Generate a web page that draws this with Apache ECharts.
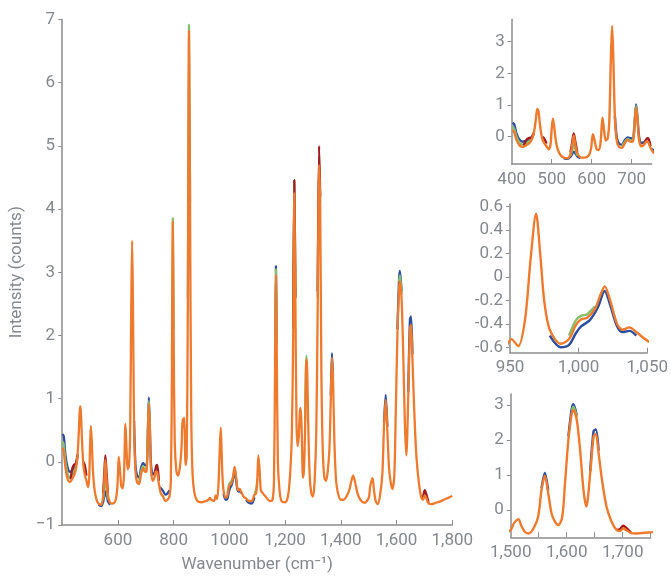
<!DOCTYPE html>
<html>
<head>
<meta charset="utf-8">
<script src="https://cdn.jsdelivr.net/npm/echarts@6/dist/echarts.min.js"></script>
<style>
  html, body { margin: 0; background: #fff; }
  #chart { width: 671px; height: 578px; }
</style>
</head>
<body>
<div id="chart"></div>
<script>
// top (orange) spectrum
const wavenumber = [
  402, 406, 412, 420, 428, 436, 444, 450, 455, 460, 464, 467, 471, 476, 481, 487, 493, 497, 500, 503,
  506, 510, 515, 522, 530, 540, 547, 551, 555, 559, 564, 572, 582, 592, 598, 603, 607, 612, 617, 622,
  627, 631, 635, 640, 644, 648, 651, 654, 658, 663, 669, 676, 683, 690, 697, 703, 707, 711, 715, 719,
  725, 731, 737, 741, 747, 754, 762, 770, 778, 785, 790, 794, 797, 800, 804, 810, 816, 822, 828, 832,
  835, 838, 843, 847, 851, 855, 859, 863, 868, 875, 885, 900, 915, 925, 930, 935, 945, 951, 956, 961,
  965, 969, 972, 975, 979, 987, 993, 998, 1002, 1006, 1012, 1016, 1019, 1023, 1028, 1032, 1037, 1042, 1051, 1060,
  1070, 1080, 1090, 1096, 1100, 1104, 1108, 1113, 1120, 1130, 1145, 1155, 1160, 1164, 1167, 1170, 1174, 1180, 1187, 1200,
  1210, 1218, 1224, 1229, 1233, 1237, 1241, 1245, 1249, 1253, 1256, 1260, 1264, 1268, 1272, 1276, 1279, 1283, 1288, 1294,
  1300, 1306, 1312, 1317, 1322, 1326, 1330, 1335, 1341, 1347, 1353, 1359, 1364, 1368, 1372, 1377, 1383, 1390, 1400, 1410,
  1420, 1430, 1438, 1444, 1450, 1460, 1470, 1485, 1500, 1505, 1510, 1514, 1519, 1525, 1532, 1540, 1549, 1555, 1561, 1567,
  1573, 1579, 1585, 1592, 1597, 1603, 1609, 1612, 1618, 1624, 1630, 1635, 1642, 1648, 1652, 1657, 1663, 1671, 1680, 1689,
  1695, 1701, 1707, 1715, 1725, 1740, 1755, 1770, 1785, 1800
];
const intensity = [
  0.22, 0.15, -0.1, -0.28, -0.32, -0.27, -0.2, -0.1, 0.1, 0.5, 0.88, 0.8, 0.35, -0.05, -0.2, -0.3, -0.4, -0.25, 0.25, 0.57,
  0.35, -0.1, -0.4, -0.58, -0.66, -0.68, -0.55, -0.3, 0.03, -0.25, -0.52, -0.65, -0.66, -0.6, -0.4, 0.08, -0.1, -0.38, -0.42, -0.2,
  0.6, 0.2, -0.12, -0.05, 0.5, 2.5, 3.5, 2.5, 0.6, -0.15, -0.33, -0.35, -0.2, -0.1, -0.16, -0.15, 0.35, 0.92, 0.45, -0.15,
  -0.3, -0.25, -0.15, -0.17, -0.35, -0.5, -0.55, -0.62, -0.6, -0.55, -0.3, 1.5, 3.8, 2.0, 0.3, -0.15, -0.22, -0.1, 0.2, 0.68,
  0.55, 0.7, -0.05, 0.1, 2.5, 6.82, 4.0, 0.8, -0.2, -0.5, -0.62, -0.64, -0.62, -0.6, -0.57, -0.6, -0.62, -0.53, -0.59, -0.36,
  0.15, 0.54, 0.2, -0.21, -0.45, -0.57, -0.53, -0.41, -0.36, -0.35, -0.27, -0.15, -0.08, -0.2, -0.4, -0.45, -0.43, -0.47, -0.55, -0.58,
  -0.62, -0.62, -0.52, -0.5, -0.3, 0.1, -0.1, -0.45, -0.5, -0.55, -0.62, -0.6, -0.3, 1.5, 2.95, 1.8, 0.0, -0.45, -0.62, -0.64,
  -0.55, -0.2, 0.4, 2.0, 4.25, 2.5, 0.6, 0.25, 0.4, 0.8, 0.85, 0.4, -0.25, -0.1, 0.6, 1.62, 1.5, 0.6, -0.2, -0.5,
  -0.55, -0.3, 0.5, 2.5, 4.7, 4.0, 1.5, 0.2, -0.25, -0.3, -0.15, 0.2, 1.0, 1.65, 1.3, 0.3, -0.3, -0.5, -0.6, -0.6,
  -0.55, -0.45, -0.3, -0.22, -0.3, -0.5, -0.6, -0.65, -0.57, -0.4, -0.3, -0.26, -0.45, -0.62, -0.67, -0.55, -0.19, 0.57, 0.98, 0.48,
  -0.1, -0.33, -0.43, -0.2, 0.76, 2.0, 2.76, 2.86, 2.57, 1.7, 0.57, 0.1, 1.05, 2.1, 2.17, 1.62, 0.86, 0.1, -0.33, -0.57,
  -0.6, -0.53, -0.58, -0.66, -0.67, -0.65, -0.63, -0.6, -0.57, -0.54
];

// the other spectra, only where they stand out from the orange one
const blueTrace = [
  [[402, 0.44], [406, 0.4], [412, 0.1], [420, -0.1], [428, -0.16], [436, -0.13], [444, -0.08], [450, -0.02], [455, 0.12]],
  [[530, -0.68], [540, -0.7], [547, -0.63], [551, -0.55], [555, -0.47], [559, -0.52], [564, -0.62], [572, -0.68]],
  [[658, 0.65], [663, -0.05], [669, -0.22], [676, -0.25], [683, -0.1], [690, -0.02], [697, -0.05], [703, -0.06],
   [707, 0.4], [711, 1.02], [715, 0.5], [719, -0.05], [725, -0.2], [731, -0.18], [737, -0.12]],
  [[750, -0.4], [762, -0.46], [770, -0.52], [778, -0.5], [785, -0.45]],
  [[979, -0.5], [987, -0.6], [993, -0.58], [998, -0.48], [1002, -0.42], [1008, -0.37], [1014, -0.26],
   [1019, -0.12], [1023, -0.24], [1028, -0.42], [1032, -0.47], [1037, -0.46], [1042, -0.5]],
  [[1060, -0.6], [1070, -0.65], [1080, -0.66], [1090, -0.56]],
  [[1164, 1.6], [1167, 3.1], [1170, 1.9]],
  [[1364, 1.05], [1368, 1.72], [1372, 1.35]],
  [[1555, 0.62], [1561, 1.06], [1567, 0.55]],
  [[1603, 2.1], [1609, 2.9], [1612, 3.02], [1618, 2.7]],
  [[1642, 1.1], [1648, 2.25], [1652, 2.3], [1657, 1.7]]
];
const greenTrace = [
  [[402, 0.32], [406, 0.26], [412, 0.0], [420, -0.2], [428, -0.25], [436, -0.21], [444, -0.14], [450, -0.06], [455, 0.12]],
  [[547, -0.6], [551, -0.42], [555, -0.25], [559, -0.38], [564, -0.6]],
  [[676, -0.32], [683, -0.16], [690, -0.07], [697, -0.12], [703, -0.11], [707, 0.38], [711, 0.96], [715, 0.47]],
  [[794, 1.6], [797, 3.86], [800, 2.1]],
  [[851, 2.6], [855, 6.92], [859, 4.1]],
  [[993, -0.5], [998, -0.37], [1002, -0.33], [1006, -0.32], [1012, -0.25]],
  [[1090, -0.5], [1096, -0.44], [1100, -0.28]],
  [[1164, 1.55], [1167, 3.05], [1170, 1.85]],
  [[1229, 2.1], [1233, 4.43], [1237, 2.6]],
  [[1272, 0.65], [1276, 1.68], [1279, 1.55]],
  [[1317, 2.6], [1322, 4.85], [1326, 4.1]],
  [[1609, 2.85], [1612, 2.95], [1618, 2.65]]
];
const redTrace = [
  [[430, -0.28], [437, -0.1], [444, -0.04], [450, -0.03], [455, 0.1]],
  [[476, 0.0], [481, -0.05], [487, -0.22]],
  [[547, -0.5], [551, -0.2], [555, 0.1], [559, -0.15], [564, -0.5]],
  [[731, -0.22], [737, -0.07], [741, -0.05], [747, -0.3]],
  [[1229, 2.1], [1233, 4.46], [1237, 2.6]],
  [[1317, 2.7], [1322, 5.0], [1326, 4.2]],
  [[1689, -0.57], [1695, -0.55], [1701, -0.45], [1707, -0.52], [1715, -0.65]]
];

// ticks and labels of the four panels
const mainXLabels = [600, 800, 1000, 1200, 1400, 1600, 1800];
const mainYLabels = [-1, 0, 1, 2, 3, 4, 5, 6, 7];
const inset1XLabels = [400, 500, 600, 700];
const inset1XTicks = [500, 600, 700];
const inset1YLabels = [0, 1, 2, 3];
const inset2XLabels = [950, 1000, 1050];
const inset2XTicks = [1000, 1050];
const inset2YLabels = [-0.6, -0.4, -0.2, 0, 0.2, 0.4, 0.6];
const inset3XLabels = [1500, 1600, 1700];
const inset3XTicks = [1550, 1600, 1650, 1700, 1750];
const inset3YLabels = [0, 1, 2, 3];

const textGray = '#84888d';
const axisGray = '#8d8d8d';
const font = 'Roboto';

const withComma = v => v >= 1000 ? v.toLocaleString('en-US') : String(v);

const panels = [
  { grid: { left: 60, top: 19.5, width: 392.3, height: 512.5 },
    x: [400, 1800], y: [-1, 7], xLabels: mainXLabels, xTicks: mainXLabels, yLabels: mainYLabels,
    xFmt: v => v === 1000 ? '1000' : withComma(v), yFmt: v => v < 0 ? '\u2212' + (-v) : String(v),
    width: 2.3, fontSize: 17 },
  { grid: { left: 511.7, top: 19.3, width: 140, height: 144.7 },
    x: [400, 750], y: [-0.862, 3.707], xLabels: inset1XLabels, xTicks: inset1XTicks, yLabels: inset1YLabels,
    xFmt: withComma, yFmt: v => String(v), width: 2.4, fontSize: 17 },
  { grid: { left: 510, top: 204, width: 142, height: 148.7 },
    x: [950, 1050], y: [-0.646, 0.623], xLabels: inset2XLabels, xTicks: inset2XTicks, yLabels: inset2YLabels,
    xFmt: withComma, yFmt: v => String(+v.toFixed(1)), width: 2.4, fontSize: 17 },
  { grid: { left: 510.7, top: 394, width: 140, height: 143.3 },
    x: [1500, 1750], y: [-0.78, 3.314], xLabels: inset3XLabels, xTicks: inset3XTicks, yLabels: inset3YLabels,
    xFmt: withComma, yFmt: v => String(v), width: 2.4, fontSize: 17 }
];

const xAxes = panels.map((p, i) => ({
  type: 'value', gridIndex: i, min: p.x[0], max: p.x[1],
  axisLine: { show: true, onZero: false, lineStyle: { color: axisGray, width: 1.5 } },
  axisTick: { show: true, inside: true, length: 5, customValues: p.xTicks, lineStyle: { color: axisGray } },
  axisLabel: { customValues: p.xLabels, formatter: p.xFmt, color: textGray, fontFamily: font, fontSize: p.fontSize, margin: 7 },
  splitLine: { show: false },
  name: i === 0 ? 'Wavenumber (cm\u207B\u00B9)' : '',
  nameLocation: 'middle', nameGap: 31,
  nameTextStyle: { color: textGray, fontFamily: font, fontSize: 17 }
}));

const yAxes = panels.map((p, i) => ({
  type: 'value', gridIndex: i, min: p.y[0], max: p.y[1],
  axisLine: { show: true, onZero: false, lineStyle: { color: axisGray, width: 1.5 } },
  axisTick: { show: true, length: 4, customValues: p.yLabels, lineStyle: { color: axisGray } },
  axisLabel: { customValues: p.yLabels, formatter: p.yFmt, color: textGray, fontFamily: font, fontSize: p.fontSize, margin: 7 },
  splitLine: { show: false },
  name: i === 0 ? 'Intensity (counts)' : '',
  nameLocation: 'middle', nameGap: 33,
  nameTextStyle: { color: textGray, fontFamily: font, fontSize: 17 }
}));

const orangeData = wavenumber.map((w, k) => [w, intensity[k]]);
const layers = [
  { color: '#2d4e9e', segments: blueTrace },
  { color: '#86c06d', segments: greenTrace },
  { color: '#a11c1e', segments: redTrace },
  { color: '#ee7a2e', segments: [orangeData] }
];

const series = [];
panels.forEach((p, i) => {
  layers.forEach(layer => {
    layer.segments.forEach(seg => {
      series.push({
        type: 'line', xAxisIndex: i, yAxisIndex: i, data: seg,
        showSymbol: false, symbol: 'none', smooth: 0.3, clip: true, silent: true,
        lineStyle: { color: layer.color, width: p.width },
        emphasis: { disabled: true }
      });
    });
  });
});

const chart = echarts.init(document.getElementById('chart'), null, { renderer: 'canvas' });
chart.setOption({
  animation: false,
  backgroundColor: '#fff',
  grid: panels.map(p => p.grid),
  xAxis: xAxes,
  yAxis: yAxes,
  series: series
});
</script>
</body>
</html>
